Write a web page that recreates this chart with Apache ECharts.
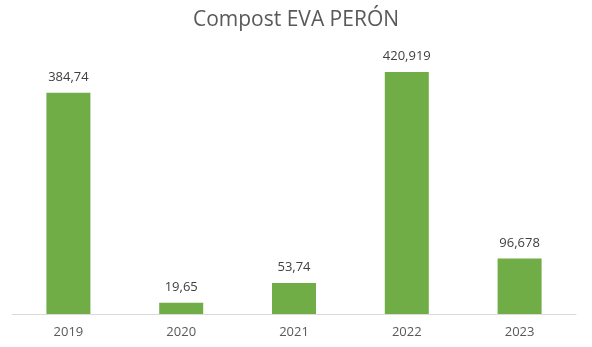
<!DOCTYPE html>
<html><head><meta charset="utf-8">
<script src="https://cdn.jsdelivr.net/npm/echarts@6/dist/echarts.min.js"></script>
<style>html,body{margin:0;padding:0;background:#fff}#c{width:592px;height:347px}</style>
</head><body><div id="c"></div>
<script>
const categories = ['2019','2020','2021','2022','2023'];
const values = [384.74, 19.65, 53.74, 420.919, 96.678];
const valueLabels = ['384,74','19,65','53,74','420,919','96,678'];
const titleText = 'Compost EVA PERÓN';

const chart = echarts.init(document.getElementById('c'));
chart.setOption({
  animation: false,
  title: {text: titleText, left: 'center', top: 5,
    textStyle: {fontFamily: 'Open Sans', fontSize: 21, fontWeight: 'normal', color: '#595959'}},
  grid: {left: 12, right: 16, top: 55.3, bottom: 33, containLabel: false},
  xAxis: {type: 'category', data: categories,
    axisLine: {lineStyle: {color: '#d9d9d9'}}, axisTick: {show: false},
    axisLabel: {color: '#595959', fontFamily: 'Open Sans', fontSize: 13, margin: 12}},
  yAxis: {type: 'value', min: 0, max: 450, show: false, splitLine: {show: false}},
  series: [{type: 'bar', data: values, barWidth: '39%',
    itemStyle: {color: '#70AD47'},
    label: {show: true, position: 'top', distance: 9, color: '#404040', fontFamily: 'Open Sans', fontSize: 13,
      formatter: p => valueLabels[p.dataIndex]}}]
});
</script></body></html>
